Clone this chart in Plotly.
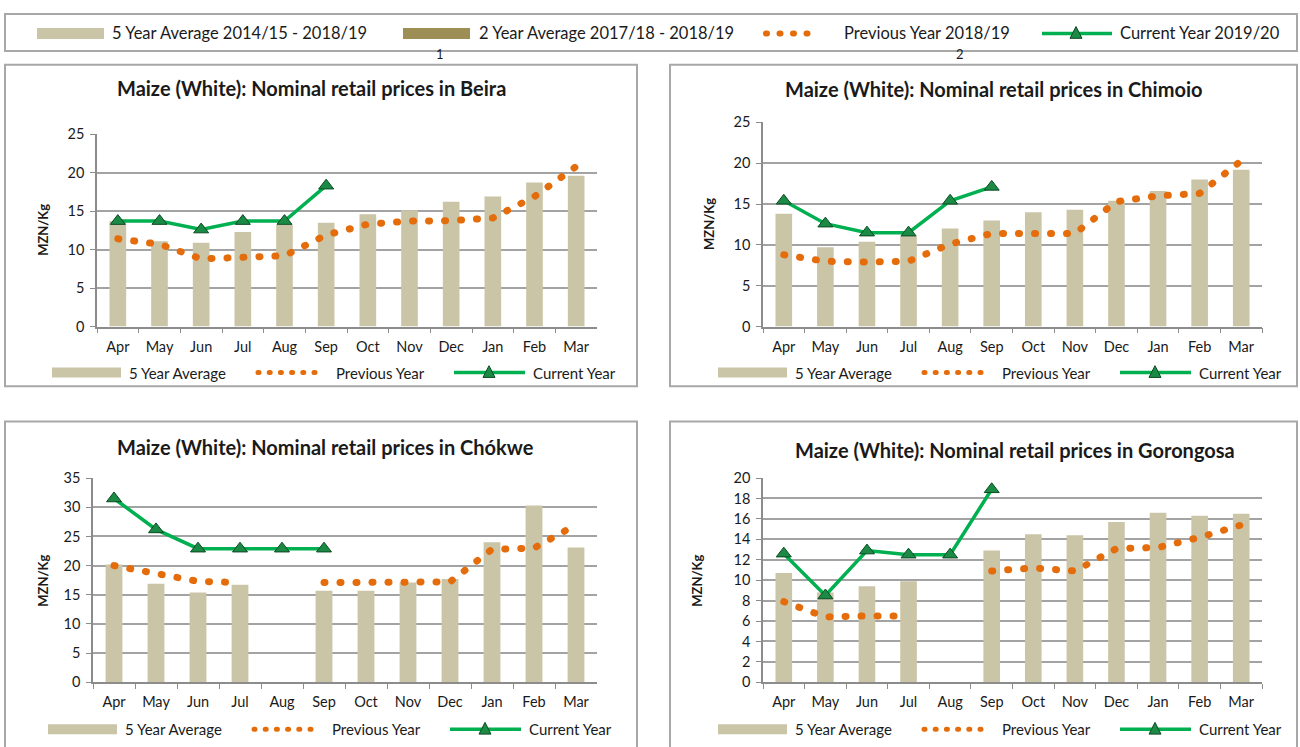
import plotly.graph_objects as go

W, H = 1300, 747

# ---------------- data ----------------
months = ["Apr", "May", "Jun", "Jul", "Aug", "Sep", "Oct", "Nov", "Dec", "Jan", "Feb", "Mar"]

beira_avg5 = [13.7, 11.1, 10.9, 12.3, 13.2, 13.5, 14.6, 15.1, 16.2, 16.9, 18.7, 19.6]
beira_prev = [11.4, 10.7, 8.8, 9.1, 9.2, 11.9, 13.3, 13.7, 13.75, 14.1, 16.9, 20.8]
beira_curr = [13.7, 13.7, 12.6, 13.7, 13.7, 18.3, None, None, None, None, None, None]

chimoio_avg5 = [13.8, 9.7, 10.4, 11.1, 12.0, 13.0, 14.0, 14.3, 15.4, 16.6, 18.0, 19.2]
chimoio_prev = [8.8, 8.0, 7.9, 8.0, 10.1, 11.4, 11.4, 11.4, 15.3, 16.0, 16.3, 20.3]
chimoio_curr = [15.4, 12.6, 11.5, 11.5, 15.4, 17.1, None, None, None, None, None, None]

chokwe_avg5 = [20.2, 16.9, 15.4, 16.7, None, 15.7, 15.7, 17.1, 17.7, 24.0, 30.3, 23.1]
chokwe_prev = [20.0, 18.7, 17.3, 17.1, None, 17.1, 17.1, 17.1, 17.2, 22.8, 23.0, 27.0]
chokwe_curr = [31.5, 26.2, 22.9, 22.9, 22.9, 22.9, None, None, None, None, None, None]

gorongosa_avg5 = [10.7, 8.8, 9.4, 9.9, None, 12.9, 14.5, 14.4, 15.7, 16.6, 16.3, 16.5]
gorongosa_prev = [7.9, 6.4, 6.5, 6.5, None, 10.9, 11.2, 10.9, 13.1, 13.2, 14.2, 15.4]
gorongosa_curr = [12.6, 8.5, 12.9, 12.5, 12.5, 18.9, None, None, None, None, None, None]

titles = [
    "Maize (White): Nominal retail prices in Beira",
    "Maize (White): Nominal retail prices in Chimoio",
    "Maize (White): Nominal retail prices in Chókwe",
    "Maize (White): Nominal retail prices in Gorongosa",
]
top_legend_labels = ["5 Year Average 2014/15 - 2018/19", "2 Year Average 2017/18 - 2018/19",
                     "Previous Year 2018/19", "Current Year 2019/20"]
panel_legend_labels = ["5 Year Average", "Previous Year", "Current Year"]
y_title = "MZN/Kg"

# ---------------- styles ----------------
FONT = "Lato"
C_BAR = "#CBC5A8"
C_BAR2 = "#9C8E55"
C_PREV = "#E46C0A"
C_CURR = "#00B050"
C_TRI = "#1B8A45"
C_TRI_EDGE = "#0B4A22"
C_GRID = "#A3A3A3"
C_AXIS = "#8C8C8C"
C_BOX = "#A8A8A8"
TXT = "#1a1a1a"


def X(px):
    return px / W


def Y(py):
    return 1 - py / H


panels = [
    dict(avg=beira_avg5, prev=beira_prev, curr=beira_curr, ymax=25, dtick=5,
         plot=(97, 597, 128, 325), box=(5, 57, 637, 386), tpos=(311, 81), ypos=(43, 226), legy=372),
    dict(avg=chimoio_avg5, prev=chimoio_prev, curr=chimoio_curr, ymax=25, dtick=5,
         plot=(763, 1262, 116, 325), box=(670, 57, 1297, 386), tpos=(993, 82), ypos=(709, 220), legy=372),
    dict(avg=chokwe_avg5, prev=chokwe_prev, curr=chokwe_curr, ymax=35, dtick=5,
         plot=(93, 597, 480, 689), box=(5, 422, 637, 760), tpos=(325, 448), ypos=(43, 585), legy=737),
    dict(avg=gorongosa_avg5, prev=gorongosa_prev, curr=gorongosa_curr, ymax=20, dtick=2,
         plot=(763, 1262, 480, 689), box=(670, 422, 1297, 760), tpos=(1015, 451), ypos=(697, 585), legy=737),
]

fig = go.Figure()
shapes = []
annotations = []
layout_axes = {}

for i, p in enumerate(panels):
    n = i + 1
    xa = "x" if n == 1 else f"x{n}"
    ya = "y" if n == 1 else f"y{n}"
    x0, x1, yt, yb = p["plot"]

    fig.add_trace(go.Bar(x=months, y=p["avg"], xaxis=xa, yaxis=ya, marker=dict(color=C_BAR, line=dict(width=0)),
                         width=0.4, showlegend=False, hoverinfo="skip"))
    fig.add_trace(go.Scatter(x=months, y=p["prev"], xaxis=xa, yaxis=ya, mode="lines",
                             line=dict(color=C_PREV, width=7, dash="1px,15px"), connectgaps=False,
                             showlegend=False, hoverinfo="skip"))
    fig.add_trace(go.Scatter(x=months, y=p["curr"], xaxis=xa, yaxis=ya, mode="lines+markers",
                             line=dict(color=C_CURR, width=3.5),
                             marker=dict(symbol="triangle-up", size=13, color=C_TRI,
                                         line=dict(color=C_TRI_EDGE, width=1)),
                             showlegend=False, hoverinfo="skip"))

    xkey = "xaxis" if n == 1 else f"xaxis{n}"
    ykey = "yaxis" if n == 1 else f"yaxis{n}"
    layout_axes[xkey] = dict(domain=[X(x0), X(x1)], anchor=ya, type="category", categoryorder="array",
                             categoryarray=months, showline=True, linecolor=C_AXIS, linewidth=1.5,
                             ticks="outside", tickson="boundaries", ticklen=5, tickcolor=C_AXIS,
                             ticklabelstandoff=6,
                             showgrid=False, tickfont=dict(family=FONT, size=14.5, color=TXT),
                             range=[-0.5, 11.5], fixedrange=True)
    layout_axes[ykey] = dict(domain=[Y(yb), Y(yt)], anchor=xa, range=[0, p["ymax"]], dtick=p["dtick"],
                             showgrid=True, gridcolor=C_GRID, gridwidth=1.5, zeroline=False,
                             showline=True, linecolor=C_AXIS, linewidth=1.5, ticks="outside", ticklen=5,
                             ticklabelstandoff=3,
                             tickcolor=C_AXIS, tickfont=dict(family=FONT, size=14.5, color=TXT), fixedrange=True)

    # panel border
    bx0, by0, bx1, by1 = p["box"]
    shapes.append(dict(type="rect", xref="paper", yref="paper", x0=X(bx0), x1=X(bx1), y0=Y(by1), y1=Y(by0),
                       line=dict(color=C_BOX, width=2), fillcolor="rgba(0,0,0,0)", layer="below"))
    # title
    annotations.append(dict(text=f"<b>{titles[i]}</b>", x=X(p["tpos"][0]), y=Y(p["tpos"][1]), xref="paper",
                            yref="paper", xanchor="center", yanchor="middle", showarrow=False,
                            font=dict(family=FONT, size=20, color=TXT)))
    # y-axis title
    annotations.append(dict(text=f"<b>{y_title}</b>", x=X(p["ypos"][0]), y=Y(p["ypos"][1]), xref="paper",
                            yref="paper", xanchor="center", yanchor="middle", showarrow=False, textangle=-90,
                            font=dict(family=FONT, size=13, color=TXT)))

    # panel legend
    ly = p["legy"]
    shapes.append(dict(type="line", xref="paper", yref="paper", x0=X(x0 - 45), x1=X(x0 + 24), y0=Y(ly), y1=Y(ly),
                       line=dict(color=C_BAR, width=10)))
    annotations.append(dict(text=panel_legend_labels[0], x=X(x0 + 30), y=Y(ly), xref="paper", yref="paper",
                            xanchor="left", yanchor="middle", showarrow=False,
                            font=dict(family=FONT, size=15, color=TXT)))
    shapes.append(dict(type="line", xref="paper", yref="paper", x0=X(x0 + 161), x1=X(x0 + 228), y0=Y(ly), y1=Y(ly),
                       line=dict(color=C_PREV, width=5, dash="1px,10.2px")))
    annotations.append(dict(text=panel_legend_labels[1], x=X(x0 + 237), y=Y(ly), xref="paper", yref="paper",
                            xanchor="left", yanchor="middle", showarrow=False,
                            font=dict(family=FONT, size=15, color=TXT)))
    shapes.append(dict(type="line", xref="paper", yref="paper", x0=X(x0 + 357), x1=X(x0 + 428), y0=Y(ly), y1=Y(ly),
                       line=dict(color=C_CURR, width=3.5)))
    cx = x0 + 392
    shapes.append(dict(type="path", xref="paper", yref="paper",
                       path=f"M{X(cx)},{Y(ly - 7)} L{X(cx - 6)},{Y(ly + 5)} L{X(cx + 6)},{Y(ly + 5)} Z",
                       fillcolor=C_TRI, line=dict(color=C_TRI_EDGE, width=1)))
    annotations.append(dict(text=panel_legend_labels[2], x=X(x0 + 434), y=Y(ly), xref="paper", yref="paper",
                            xanchor="left", yanchor="middle", showarrow=False,
                            font=dict(family=FONT, size=15, color=TXT)))

# ---------------- top legend ----------------
ty = 25
shapes.append(dict(type="rect", xref="paper", yref="paper", x0=X(5), x1=X(1297), y0=Y(43), y1=Y(5),
                   line=dict(color=C_BOX, width=2), fillcolor="rgba(0,0,0,0)"))
shapes.append(dict(type="line", xref="paper", yref="paper", x0=X(37), x1=X(104), y0=Y(ty), y1=Y(ty),
                   line=dict(color=C_BAR, width=11)))
shapes.append(dict(type="line", xref="paper", yref="paper", x0=X(403), x1=X(470), y0=Y(ty), y1=Y(ty),
                   line=dict(color=C_BAR2, width=11)))
shapes.append(dict(type="line", xref="paper", yref="paper", x0=X(766), x1=X(820), y0=Y(ty), y1=Y(ty),
                   line=dict(color=C_PREV, width=6, dash="1px,12.5px")))
shapes.append(dict(type="line", xref="paper", yref="paper", x0=X(1042), x1=X(1112), y0=Y(ty), y1=Y(ty),
                   line=dict(color=C_CURR, width=3.5)))
shapes.append(dict(type="path", xref="paper", yref="paper",
                   path=f"M{X(1076)},{Y(ty - 7)} L{X(1070)},{Y(ty + 5)} L{X(1082)},{Y(ty + 5)} Z",
                   fillcolor=C_TRI, line=dict(color=C_TRI_EDGE, width=1)))
for lbl, lx in zip(top_legend_labels, [110, 477, 842, 1118]):
    annotations.append(dict(text=lbl, x=X(lx), y=Y(ty), xref="paper", yref="paper", xanchor="left",
                            yanchor="middle", showarrow=False, font=dict(family=FONT, size=16.5, color=TXT)))
for lbl, lx in [("1", 440), ("2", 960)]:
    annotations.append(dict(text=lbl, x=X(lx), y=Y(46), xref="paper", yref="paper", xanchor="center",
                            yanchor="middle", showarrow=False, font=dict(family=FONT, size=13, color=TXT)))

fig.update_layout(
    width=W, height=H, margin=dict(l=0, r=0, t=0, b=0, pad=0),
    paper_bgcolor="white", plot_bgcolor="white", showlegend=False,
    barmode="overlay", shapes=shapes, annotations=annotations,
    font=dict(family=FONT, color=TXT),
    **layout_axes,
)

post = """
var de = document.documentElement, bd = document.body;
de.style.margin = '0'; de.style.padding = '0'; de.style.overflow = 'hidden';
de.style.width = '1300px'; de.style.height = '747px';
bd.style.margin = '0'; bd.style.padding = '0'; bd.style.overflow = 'hidden';
bd.style.width = '1300px'; bd.style.height = '747px';
var gd = document.getElementById('{plot_id}');
gd.style.position = 'absolute'; gd.style.top = '0px'; gd.style.left = '0px';
function rc(){
  var ps = gd.querySelectorAll('path');
  for (var i = 0; i < ps.length; i++) {
    var d = ps[i].style.strokeDasharray;
    if (d && d !== 'none') { ps[i].style.strokeLinecap = 'round'; }
  }
}
rc(); setTimeout(rc, 30); setTimeout(rc, 300);
if (gd.on) { gd.on('plotly_afterplot', rc); }
"""

fig.write_html("out.html", config={"displayModeBar": False}, post_script=post)
